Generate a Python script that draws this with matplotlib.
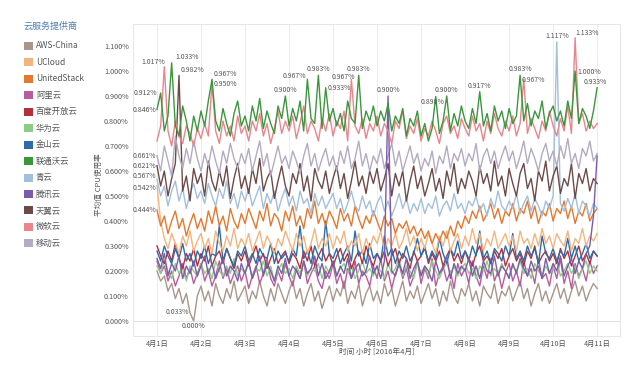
import numpy as np
import matplotlib
matplotlib.use("Agg")
import matplotlib.pyplot as plt
from matplotlib.patches import Rectangle

plt.rcParams['font.family'] = ['Noto Sans CJK SC', 'DejaVu Sans']

# samples every 2 h, 4月1日 00:00 .. 4月11日 00:00 (one row = one day)
hours = np.arange(0, 241, 2)
day_labels = ["4月%d日" % d for d in range(1, 12)]

names = ["AWS-China", "UCloud", "UnitedStack", "阿里云", "百度开放云", "华为云", "金山云",
         "联通沃云", "青云", "腾讯云", "天翼云", "微软云", "移动云"]
colors = ["#a8968b", "#f4b47e", "#e5782f", "#b85c9e", "#b2303b", "#8ecb89", "#2f6ca6",
          "#3c963c", "#a3bfdb", "#7a5ca8", "#6d4a47", "#e8868c", "#b4aac1"]

aws_china = [0.20, 0.16, 0.18, 0.12, 0.15, 0.09, 0.13, 0.07, 0.11, 0.033, 0.000, 0.10,
             0.14, 0.08, 0.12, 0.06, 0.15, 0.10, 0.07, 0.13, 0.09, 0.16, 0.08, 0.11,
             0.14, 0.07, 0.12, 0.09, 0.16, 0.10, 0.06, 0.13, 0.08, 0.15, 0.11, 0.07,
             0.12, 0.16, 0.09, 0.13, 0.06, 0.11, 0.15, 0.08, 0.12, 0.05, 0.10, 0.14,
             0.08, 0.13, 0.10, 0.16, 0.07, 0.12, 0.09, 0.15, 0.06, 0.11, 0.14, 0.08,
             0.12, 0.07, 0.15, 0.10, 0.13, 0.06, 0.11, 0.16, 0.08, 0.12, 0.09, 0.14,
             0.07, 0.11, 0.15, 0.09, 0.13, 0.06, 0.12, 0.08, 0.16, 0.10, 0.07, 0.13,
             0.10, 0.15, 0.08, 0.12, 0.06, 0.14, 0.11, 0.09, 0.15, 0.07, 0.12, 0.10,
             0.14, 0.08, 0.12, 0.16, 0.09, 0.13, 0.06, 0.11, 0.15, 0.08, 0.12, 0.07,
             0.11, 0.15, 0.09, 0.13, 0.07, 0.12, 0.16, 0.10, 0.14, 0.08, 0.12, 0.15,
             0.13]
ucloud = [0.542, 0.40, 0.33, 0.29, 0.35, 0.31, 0.27, 0.34, 0.30, 0.36, 0.28, 0.32,
          0.35, 0.29, 0.33, 0.27, 0.36, 0.31, 0.28, 0.34, 0.30, 0.37, 0.29, 0.33,
          0.30, 0.35, 0.28, 0.32, 0.36, 0.29, 0.34, 0.31, 0.27, 0.33, 0.30, 0.36,
          0.32, 0.28, 0.35, 0.30, 0.34, 0.27, 0.31, 0.37, 0.29, 0.33, 0.30, 0.35,
          0.29, 0.34, 0.31, 0.36, 0.28, 0.32, 0.30, 0.35, 0.27, 0.33, 0.29, 0.34,
          0.31, 0.36, 0.28, 0.33, 0.30, 0.35, 0.29, 0.32, 0.37, 0.30, 0.34, 0.28,
          0.33, 0.29, 0.35, 0.31, 0.27, 0.34, 0.30, 0.36, 0.28, 0.32, 0.35, 0.29,
          0.34, 0.30, 0.37, 0.31, 0.35, 0.28, 0.33, 0.30, 0.36, 0.29, 0.32, 0.35,
          0.30, 0.34, 0.28, 0.36, 0.31, 0.33, 0.29, 0.35, 0.30, 0.37, 0.31, 0.34,
          0.29, 0.35, 0.32, 0.30, 0.36, 0.28, 0.33, 0.31, 0.37, 0.30, 0.34, 0.32,
          0.35]
unitedstack = [0.444, 0.38, 0.42, 0.35, 0.40, 0.44, 0.37, 0.41, 0.34, 0.39, 0.43, 0.37,
               0.41, 0.36, 0.44, 0.39, 0.46, 0.38, 0.42, 0.36, 0.45, 0.40, 0.37, 0.43,
               0.39, 0.45, 0.41, 0.37, 0.44, 0.40, 0.47, 0.38, 0.43, 0.41, 0.36, 0.44,
               0.40, 0.46, 0.38, 0.42, 0.37, 0.45, 0.41, 0.48, 0.39, 0.43, 0.38, 0.44,
               0.41, 0.37, 0.45, 0.40, 0.43, 0.38, 0.46, 0.41, 0.37, 0.42, 0.39, 0.44,
               0.40, 0.36, 0.42, 0.38, 0.41, 0.35, 0.39, 0.37, 0.40, 0.35, 0.38, 0.34,
               0.37, 0.33, 0.36, 0.31, 0.35, 0.32, 0.36, 0.33, 0.38, 0.34, 0.40, 0.37,
               0.42, 0.39, 0.44, 0.41, 0.46, 0.40, 0.43, 0.47, 0.41, 0.45, 0.39, 0.44,
               0.42, 0.47, 0.40, 0.45, 0.43, 0.48, 0.41, 0.46, 0.39, 0.44, 0.42, 0.47,
               0.40, 0.45, 0.43, 0.48, 0.41, 0.46, 0.39, 0.44, 0.42, 0.47, 0.40, 0.43,
               0.45]
aliyun = [0.24, 0.19, 0.22, 0.16, 0.20, 0.14, 0.18, 0.23, 0.17, 0.21, 0.15, 0.19,
          0.23, 0.16, 0.20, 0.14, 0.18, 0.24, 0.17, 0.21, 0.15, 0.19, 0.22, 0.16,
          0.20, 0.13, 0.18, 0.22, 0.15, 0.19, 0.25, 0.17, 0.14, 0.20, 0.16, 0.23,
          0.18, 0.14, 0.21, 0.17, 0.24, 0.15, 0.19, 0.22, 0.16, 0.13, 0.20, 0.17,
          0.23, 0.15, 0.19, 0.13, 0.21, 0.17, 0.24, 0.15, 0.20, 0.18, 0.14, 0.22,
          0.17, 0.25, 0.16, 0.20, 0.13, 0.19, 0.23, 0.17, 0.21, 0.14, 0.18, 0.24,
          0.15, 0.21, 0.17, 0.25, 0.14, 0.19, 0.22, 0.16, 0.20, 0.13, 0.23, 0.18,
          0.21, 0.15, 0.24, 0.18, 0.14, 0.22, 0.17, 0.25, 0.16, 0.20, 0.13, 0.19,
          0.23, 0.16, 0.20, 0.14, 0.24, 0.18, 0.21, 0.15, 0.25, 0.17, 0.19, 0.14,
          0.22, 0.17, 0.25, 0.15, 0.20, 0.13, 0.23, 0.18, 0.21, 0.16, 0.24, 0.19,
          0.22]
baidu = [0.30, 0.26, 0.23, 0.28, 0.24, 0.31, 0.25, 0.21, 0.27, 0.24, 0.29, 0.22,
         0.27, 0.24, 0.30, 0.22, 0.26, 0.28, 0.23, 0.29, 0.25, 0.21, 0.27, 0.24,
         0.28, 0.22, 0.26, 0.30, 0.24, 0.27, 0.21, 0.25, 0.29, 0.23, 0.26, 0.28,
         0.23, 0.27, 0.25, 0.21, 0.28, 0.24, 0.30, 0.22, 0.26, 0.29, 0.24, 0.27,
         0.22, 0.26, 0.29, 0.24, 0.27, 0.21, 0.25, 0.28, 0.23, 0.30, 0.25, 0.22,
         0.27, 0.24, 0.28, 0.22, 0.26, 0.29, 0.23, 0.27, 0.25, 0.21, 0.28, 0.24,
         0.26, 0.30, 0.23, 0.27, 0.24, 0.28, 0.22, 0.26, 0.29, 0.24, 0.27, 0.23,
         0.28, 0.25, 0.22, 0.27, 0.30, 0.24, 0.26, 0.23, 0.28, 0.25, 0.29, 0.22,
         0.26, 0.29, 0.24, 0.27, 0.22, 0.28, 0.25, 0.30, 0.23, 0.26, 0.28, 0.24,
         0.27, 0.23, 0.29, 0.25, 0.28, 0.22, 0.26, 0.30, 0.24, 0.27, 0.23, 0.28,
         0.26]
huawei = [0.22, 0.19, 0.24, 0.20, 0.17, 0.23, 0.19, 0.21, 0.16, 0.22, 0.20, 0.18,
          0.23, 0.19, 0.21, 0.17, 0.24, 0.20, 0.18, 0.22, 0.19, 0.25, 0.18, 0.21,
          0.19, 0.23, 0.17, 0.21, 0.20, 0.24, 0.18, 0.22, 0.16, 0.20, 0.23, 0.19,
          0.21, 0.17, 0.22, 0.19, 0.24, 0.18, 0.21, 0.20, 0.23, 0.17, 0.22, 0.19,
          0.24, 0.18, 0.21, 0.23, 0.19, 0.22, 0.17, 0.20, 0.24, 0.19, 0.21, 0.18,
          0.22, 0.20, 0.17, 0.23, 0.19, 0.21, 0.25, 0.18, 0.22, 0.20, 0.17, 0.23,
          0.19, 0.22, 0.18, 0.24, 0.20, 0.17, 0.21, 0.23, 0.19, 0.22, 0.18, 0.21,
          0.23, 0.19, 0.21, 0.17, 0.22, 0.20, 0.24, 0.18, 0.21, 0.19, 0.23, 0.20,
          0.18, 0.22, 0.20, 0.24, 0.19, 0.21, 0.17, 0.23, 0.20, 0.18, 0.22, 0.19,
          0.21, 0.24, 0.18, 0.20, 0.23, 0.19, 0.22, 0.17, 0.21, 0.24, 0.19, 0.22,
          0.20]
kingsoft = [0.28, 0.24, 0.30, 0.26, 0.23, 0.29, 0.25, 0.31, 0.24, 0.27, 0.22, 0.28,
            0.25, 0.30, 0.23, 0.27, 0.26, 0.38, 0.24, 0.29, 0.25, 0.22, 0.28, 0.26,
            0.30, 0.24, 0.27, 0.23, 0.29, 0.26, 0.25, 0.31, 0.23, 0.28, 0.25, 0.27,
            0.24, 0.29, 0.26, 0.38, 0.25, 0.28, 0.23, 0.30, 0.26, 0.24, 0.40, 0.27,
            0.25, 0.29, 0.23, 0.27, 0.30, 0.24, 0.36, 0.26, 0.28, 0.23, 0.31, 0.25,
            0.27, 0.24, 0.34, 0.26, 0.29, 0.23, 0.28, 0.25, 0.30, 0.24, 0.27, 0.33,
            0.26, 0.29, 0.24, 0.28, 0.25, 0.33, 0.27, 0.23, 0.29, 0.26, 0.32, 0.25,
            0.28, 0.24, 0.30, 0.26, 0.36, 0.25, 0.28, 0.23, 0.29, 0.27, 0.24, 0.30,
            0.26, 0.35, 0.25, 0.28, 0.24, 0.30, 0.26, 0.29, 0.23, 0.34, 0.27, 0.25,
            0.29, 0.24, 0.28, 0.26, 0.33, 0.25, 0.30, 0.24, 0.27, 0.31, 0.25, 0.28,
            0.26]
wocloud = [0.846, 0.912, 0.76, 0.82, 1.033, 0.78, 0.74, 0.86, 0.80, 0.72, 0.82, 0.76,
           0.84, 0.78, 0.88, 0.967, 0.80, 0.76, 0.85, 0.79, 0.74, 0.83, 0.88, 0.78,
           0.82, 0.76, 0.86, 0.80, 0.89, 0.77, 0.84, 0.79, 0.75, 0.86, 0.81, 0.900,
           0.78, 0.85, 0.80, 0.88, 0.76, 0.967, 0.81, 0.79, 0.983, 0.77, 0.933, 0.80,
           0.85, 0.78, 0.83, 0.76, 0.88, 0.81, 0.79, 0.983, 0.77, 0.84, 0.80, 0.86,
           0.78, 0.84, 0.80, 0.87, 0.76, 0.82, 0.79, 0.85, 0.74, 0.81, 0.78, 0.84,
           0.74, 0.79, 0.72, 0.77, 0.898, 0.75, 0.80, 0.900, 0.76, 0.83, 0.78, 0.86,
           0.80, 0.77, 0.85, 0.79, 0.917, 0.78, 0.83, 0.76, 0.86, 0.80, 0.84, 0.77,
           0.85, 0.79, 0.82, 0.983, 0.80, 0.87, 0.78, 0.84, 0.81, 0.88, 0.77, 0.83,
           0.86, 0.80, 0.84, 0.78, 0.88, 0.81, 1.000, 0.79, 0.85, 0.82, 0.77, 0.84,
           0.933]
qingcloud = [0.567, 0.50, 0.54, 0.46, 0.52, 0.56, 0.48, 0.53, 0.45, 0.51, 0.55, 0.49,
             0.52, 0.47, 0.55, 0.50, 0.46, 0.53, 0.49, 0.56, 0.47, 0.51, 0.45, 0.52,
             0.48, 0.53, 0.46, 0.50, 0.54, 0.45, 0.51, 0.47, 0.52, 0.44, 0.49, 0.53,
             0.46, 0.50, 0.44, 0.52, 0.47, 0.49, 0.43, 0.51, 0.46, 0.50, 0.45, 0.48,
             0.51, 0.45, 0.49, 0.43, 0.47, 0.52, 0.46, 0.44, 0.50, 0.45, 0.48, 0.42,
             0.47, 0.50, 0.44, 0.48, 0.42, 0.46, 0.51, 0.45, 0.49, 0.43, 0.47, 0.44,
             0.49, 0.43, 0.47, 0.45, 0.50, 0.42, 0.46, 0.48, 0.44, 0.51, 0.45, 0.47,
             0.43, 0.48, 0.46, 0.50, 0.44, 0.47, 0.42, 0.49, 0.45, 0.52, 0.46, 0.44,
             0.48, 0.45, 0.51, 0.43, 0.47, 0.50, 0.44, 0.49, 0.46, 0.42, 0.48, 0.45,
             0.50, 1.117, 0.47, 0.44, 0.49, 0.45, 0.51, 0.43, 0.48, 0.46, 0.42, 0.47,
             0.45]
tencent = [0.25, 0.21, 0.27, 0.18, 0.23, 0.20, 0.26, 0.17, 0.22, 0.19, 0.24, 0.18,
           0.22, 0.26, 0.19, 0.23, 0.17, 0.21, 0.25, 0.18, 0.22, 0.20, 0.16, 0.23,
           0.19, 0.24, 0.17, 0.21, 0.26, 0.18, 0.23, 0.20, 0.16, 0.22, 0.19, 0.25,
           0.18, 0.22, 0.20, 0.17, 0.24, 0.19, 0.21, 0.26, 0.18, 0.23, 0.17, 0.20,
           0.24, 0.18, 0.22, 0.19, 0.25, 0.17, 0.21, 0.23, 0.18, 0.20, 0.26, 0.19,
           0.22, 0.17, 0.24, 0.900, 0.20, 0.18, 0.23, 0.19, 0.25, 0.17, 0.21, 0.24,
           0.18, 0.22, 0.20, 0.16, 0.24, 0.19, 0.21, 0.26, 0.17, 0.23, 0.19, 0.22,
           0.20, 0.25, 0.18, 0.22, 0.17, 0.24, 0.20, 0.19, 0.26, 0.18, 0.22, 0.20,
           0.17, 0.23, 0.19, 0.25, 0.21, 0.18, 0.24, 0.20, 0.22, 0.17, 0.25, 0.19,
           0.23, 0.20, 0.26, 0.18, 0.22, 0.25, 0.19, 0.24, 0.21, 0.27, 0.30, 0.42,
           0.66]
tianyi = [0.621, 0.54, 0.60, 0.50, 0.57, 0.63, 0.982, 0.52, 0.58, 0.48, 0.61, 0.55,
          0.59, 0.50, 0.64, 0.56, 0.52, 0.60, 0.54, 0.62, 0.49, 0.57, 0.63, 0.53,
          0.58, 0.51, 0.61, 0.55, 0.65, 0.52, 0.57, 0.60, 0.49, 0.56, 0.62, 0.54,
          0.50, 0.59, 0.55, 0.63, 0.52, 0.58, 0.48, 0.61, 0.56, 0.53, 0.60, 0.51,
          0.57, 0.62, 0.53, 0.59, 0.49, 0.56, 0.64, 0.54, 0.58, 0.51, 0.60, 0.55,
          0.61, 0.52, 0.57, 0.63, 0.50, 0.59, 0.54, 0.60, 0.48, 0.56, 0.62, 0.53,
          0.58, 0.50, 0.55, 0.61, 0.52, 0.57, 0.49, 0.60, 0.54, 0.63, 0.51, 0.57,
          0.53, 0.60, 0.56, 0.50, 0.62, 0.55, 0.59, 0.52, 0.64, 0.54, 0.58, 0.50,
          0.61, 0.55, 0.50, 0.59, 0.63, 0.53, 0.57, 0.48, 0.60, 0.56, 0.64, 0.52,
          0.58, 0.62, 0.51, 0.57, 0.54, 0.63, 0.49, 0.59, 0.55, 0.61, 0.52, 0.57,
          0.55]
azure = [0.72, 0.78, 1.017, 0.76, 0.70, 0.80, 0.74, 0.71, 0.78, 0.75, 0.70, 0.77,
         0.73, 0.79, 0.74, 0.950, 0.76, 0.71, 0.80, 0.74, 0.78, 0.72, 0.82, 0.75,
         0.78, 0.72, 0.80, 0.76, 0.83, 0.74, 0.79, 0.71, 0.77, 0.84, 0.75, 0.80,
         0.76, 0.82, 0.73, 0.79, 0.86, 0.75, 0.80, 0.77, 0.72, 0.81, 0.76, 0.83,
         0.74, 0.80, 0.77, 0.84, 0.72, 0.967, 0.78, 0.75, 0.81, 0.73, 0.79, 0.76,
         0.82, 0.74, 0.79, 0.76, 0.71, 0.80, 0.77, 0.84, 0.73, 0.78, 0.75, 0.81,
         0.72, 0.77, 0.74, 0.80, 0.76, 0.71, 0.79, 0.82, 0.75, 0.78, 0.73, 0.81,
         0.77, 0.74, 0.82, 0.76, 0.79, 0.72, 0.80, 0.75, 0.83, 0.77, 0.74, 0.80,
         0.76, 0.82, 0.74, 0.79, 0.967, 0.75, 0.81, 0.77, 0.73, 0.80, 0.76, 0.84,
         0.78, 0.74, 0.81, 0.76, 0.86, 0.75, 1.133, 0.79, 0.83, 0.76, 0.80, 0.77,
         0.79]
mobile = [0.661, 0.60, 0.70, 0.64, 0.58, 0.74, 0.66, 0.61, 0.69, 0.63, 0.72, 0.65,
          0.60, 0.67, 0.62, 0.70, 0.64, 0.59, 0.68, 0.63, 0.71, 0.65, 0.61, 0.67,
          0.63, 0.69, 0.60, 0.66, 0.72, 0.62, 0.67, 0.58, 0.64, 0.70, 0.63, 0.66,
          0.61, 0.68, 0.64, 0.59, 0.66, 0.71, 0.62, 0.67, 0.60, 0.65, 0.69, 0.62,
          0.66, 0.60, 0.68, 0.63, 0.70, 0.61, 0.65, 0.72, 0.62, 0.67, 0.60, 0.66,
          0.63, 0.69, 0.61, 0.66, 0.71, 0.62, 0.68, 0.60, 0.65, 0.70, 0.63, 0.67,
          0.60, 0.65, 0.62, 0.68, 0.59, 0.66, 0.63, 0.70, 0.61, 0.67, 0.64, 0.69,
          0.62, 0.67, 0.64, 0.71, 0.60, 0.66, 0.69, 0.63, 0.68, 0.61, 0.66, 0.70,
          0.64, 0.68, 0.61, 0.66, 0.72, 0.63, 0.69, 0.65, 0.60, 0.67, 0.71, 0.64,
          0.68, 0.62, 0.70, 0.65, 0.73, 0.63, 0.67, 0.61, 0.69, 0.66, 0.72, 0.64,
          0.67]

series = [aws_china, ucloud, unitedstack, aliyun, baidu, huawei, kingsoft,
          wocloud, qingcloud, tencent, tianyi, azure, mobile]

# value labels: (series index, point index, dx px, dy px, ha)
labels = [(11, 2, -11, 5, 'center'), (7, 4, 15, 6, 'center'), (10, 6, 14, 5, 'center'),
          (7, 15, 13, 5, 'center'), (11, 15, 13, 0, 'center'), (7, 1, -3, 0, 'right'),
          (7, 0, -1, 0, 'right'), (12, 0, -1, 0, 'right'), (10, 0, -1, 0, 'right'),
          (8, 0, -1, 3, 'right'), (1, 0, -1, -3, 'right'), (2, 0, -1, 0, 'right'),
          (7, 35, 0, 6, 'center'), (7, 41, -13, 3, 'center'), (7, 44, 0, 6, 'center'),
          (7, 46, 14, 0, 'center'), (11, 53, -8, 2, 'center'), (7, 55, 0, 6, 'center'),
          (9, 63, 0, 6, 'center'), (7, 76, -3, -5, 'center'), (7, 79, 0, 6, 'center'),
          (7, 88, 0, 6, 'center'), (7, 99, 0, 6, 'center'), (11, 100, 10, -1, 'center'),
          (8, 109, 0, 6, 'center'), (11, 114, 12, 5, 'center'), (7, 114, 14, -1, 'center'),
          (7, 120, -2, 6, 'center'), (0, 9, -1, 1, 'right'), (0, 10, 0, -5, 'center')]

fig = plt.figure(figsize=(6.4, 3.75), dpi=100)
ax = fig.add_axes([133 / 640, 1 - 336 / 375, 487 / 640, 312 / 375])

x = hours / 24
order = [0, 3, 5, 4, 6, 1, 2, 8, 10, 12, 9, 11, 7]
for z, i in enumerate(order):
    ax.plot(x, series[i], color=colors[i], lw=1.0, zorder=2 + z)

txt = "#555555"
for s, k, dx, dy, ha in labels:
    v = series[s][k]
    ax.annotate("%.3f%%" % v, (x[k], v), xytext=(dx * 0.72, dy * 0.72),
                textcoords="offset points", ha=ha, va="center", fontsize=5,
                color=txt, zorder=30)

ax.set_xlim(-0.545, 10.52)
ax.set_ylim(-0.06, 1.188)
ax.set_xticks(range(11))
ax.set_xticklabels(day_labels)
yt = np.arange(0, 1.15, 0.1)
ax.set_yticks(yt)
ax.set_yticklabels(["%.3f%%" % v for v in yt])
ax.tick_params(length=0, labelsize=5.2, colors=txt, pad=3)
ax.grid(axis="x", color="#ececec", lw=0.7)
ax.axhline(0, color="#e0e0e0", lw=0.7, zorder=1)
ax.set_axisbelow(True)
for sp in ax.spines.values():
    sp.set_color("#e6e6e6")
    sp.set_linewidth(0.7)

fig.text(377 / 640, 1 - 352 / 375, "时间 小时 [2016年4月]", ha="center", va="center",
         fontsize=5.5, color=txt)
fig.text(99 / 640, 1 - 185 / 375, "平均值 CPU使用率", ha="center", va="center",
         rotation=90, fontsize=5.5, color=txt)

# legend panel
fig.text(24 / 640, 1 - 26 / 375, "云服务提供商", ha="left", va="center",
         fontsize=6.5, color="#4f7db3")
for i, n in enumerate(names):
    yc = 46 + i * 16.45
    fig.add_artist(Rectangle((24 / 640, 1 - (yc + 4) / 375), 9 / 640, 8 / 375,
                             transform=fig.transFigure, color=colors[i], lw=0))
    fig.text(36 / 640, 1 - yc / 375, n, ha="left", va="center", fontsize=6, color=txt)

fig.savefig("out.png", dpi=100)
